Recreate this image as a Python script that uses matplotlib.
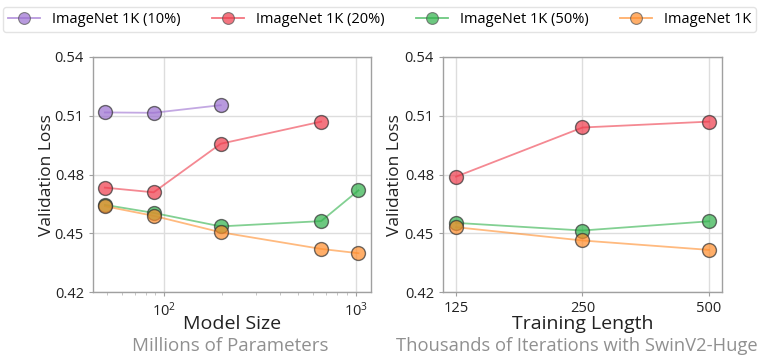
import matplotlib
matplotlib.use("Agg")
import matplotlib.pyplot as plt
from matplotlib.lines import Line2D
from matplotlib.ticker import FixedLocator, FixedFormatter, NullFormatter

plt.rcParams['font.family'] = ['Open Sans', 'DejaVu Sans']

series_names = ["ImageNet 1K (10%)", "ImageNet 1K (20%)", "ImageNet 1K (50%)", "ImageNet 1K"]
colors = ["#9b6fd0", "#ee3a4a", "#2fb14a", "#ff8c2a"]

# Left: model size (millions of parameters)
size_10 = [49, 88, 197]
loss_size_10 = [0.5117, 0.5115, 0.5154]
size_20 = [49, 88, 197, 658]
loss_size_20 = [0.4733, 0.4709, 0.4957, 0.5070]
size_50 = [49, 88, 197, 658, 1030]
loss_size_50 = [0.4645, 0.4604, 0.4535, 0.4562, 0.4719]
size_100 = [49, 88, 197, 658, 1030]
loss_size_100 = [0.4638, 0.4589, 0.4505, 0.4420, 0.4398]

# Right: training length (thousands of iterations)
iters = [125, 250, 500]
loss_iter_20 = [0.4789, 0.5040, 0.5070]
loss_iter_50 = [0.4553, 0.4514, 0.4561]
loss_iter_100 = [0.4531, 0.4463, 0.4415]

y_ticks = [0.42, 0.45, 0.48, 0.51, 0.54]

fig = plt.figure(figsize=(7.73, 3.63), dpi=100)
W, H = 773, 363
ax1 = fig.add_axes([93 / W, 1 - 292 / H, (371 - 93) / W, (292 - 57) / H])
ax2 = fig.add_axes([443 / W, 1 - 292 / H, (722 - 443) / W, (292 - 57) / H])

def draw(ax, x, y, c):
    ax.plot(x, y, color=c, alpha=0.6, lw=1.3, zorder=2)
    ax.plot(x, y, ls='none', marker='o', ms=10, mfc=c, mec='#333333', mew=1.0, alpha=0.7, zorder=3)

draw(ax1, size_10, loss_size_10, colors[0])
draw(ax1, size_20, loss_size_20, colors[1])
draw(ax1, size_50, loss_size_50, colors[2])
draw(ax1, size_100, loss_size_100, colors[3])

draw(ax2, iters, loss_iter_20, colors[1])
draw(ax2, iters, loss_iter_50, colors[2])
draw(ax2, iters, loss_iter_100, colors[3])

ax1.set_xscale('log')
ax1.set_xlim(42.5, 1197)
ax2.set_xscale('log', base=2)
ax2.set_xlim(116.4, 537)
ax2.xaxis.set_major_locator(FixedLocator(iters))
ax2.xaxis.set_major_formatter(FixedFormatter([str(v) for v in iters]))
ax2.xaxis.set_minor_locator(FixedLocator([]))
ax2.xaxis.set_minor_formatter(NullFormatter())

for ax in (ax1, ax2):
    ax.set_ylim(0.42, 0.54)
    ax.set_yticks(y_ticks)
    ax.set_yticklabels([f"{v:.2f}" for v in y_ticks])
    ax.grid(True, which='major', color='#dddddd', lw=1.0, zorder=0)
    ax.set_axisbelow(True)
    for s in ax.spines.values():
        s.set_color('#a0a0a0')
        s.set_linewidth(1.0)
    ax.tick_params(axis='both', which='major', labelsize=10.5, color='#a0a0a0', length=3, colors='#222222')
    ax.tick_params(axis='x', which='minor', color='#bbbbbb', length=2)
    ax.set_ylabel("Validation Loss", fontsize=12.5, color='#222222')

ax1.yaxis.set_label_coords(-0.138, 0.496)
ax2.yaxis.set_label_coords(-0.145, 0.496)

fig.text((93 + 371) / 2 / W, 1 - 324 / H, "Model Size", ha='center', va='center',
         fontsize=14, color='#222222')
fig.text((443 + 722) / 2 / W, 1 - 324 / H, "Training Length", ha='center', va='center',
         fontsize=14, color='#222222')
fig.text(230 / W, 1 - 346 / H, "Millions of Parameters", ha='center', va='center',
         fontsize=13.5, color='#909090')
fig.text(577 / W, 1 - 346 / H, "Thousands of Iterations with SwinV2-Huge",
         ha='center', va='center', fontsize=13.2, color='#909090')

handles = [Line2D([0], [0], color=c, alpha=0.6, lw=1.3, marker='o', ms=8.5, mfc=c, mec='#555555', mew=0.8)
           for c in colors]
leg = fig.legend(handles, series_names, loc='lower left', ncol=4, mode='expand',
                 bbox_to_anchor=(3 / W, 1 - 32 / H, 753 / W, 29 / H),
                 fontsize=10.5, frameon=True, fancybox=True, handlelength=2.2, borderaxespad=0.0,
                 handletextpad=0.8, borderpad=0.35)
leg.get_frame().set_edgecolor('#dddddd')
for lh in leg.legend_handles:
    lh.set_alpha(0.7)

fig.savefig("out.png", dpi=100)
